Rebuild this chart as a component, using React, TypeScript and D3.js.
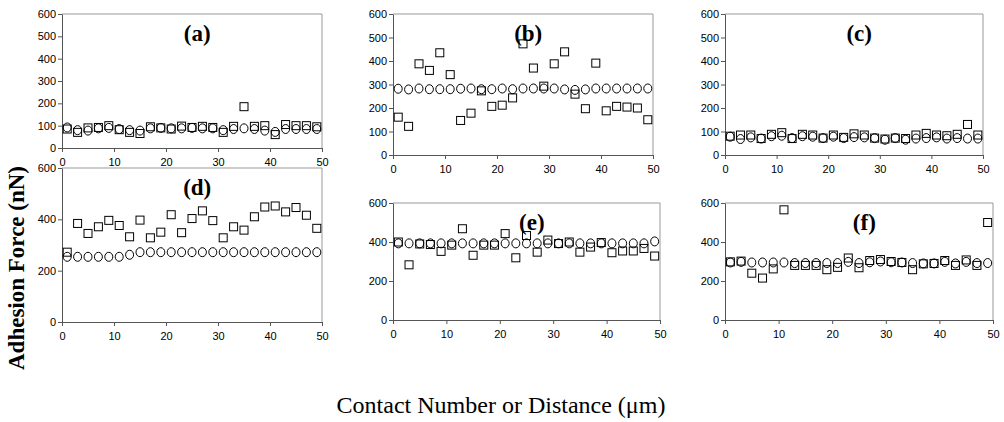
import React, { useEffect, useRef } from 'react'
import * as d3 from 'd3'

// contact number (x) shared by every panel
const contacts = [1, 3, 5, 7, 9, 11, 13, 15, 17, 19, 21, 23, 25, 27, 29, 31, 33, 35, 37, 39, 41, 43, 45, 47, 49]
const xTicks = [0, 10, 20, 30, 40, 50]
const yTicksTop = [0, 100, 200, 300, 400, 500, 600]
const yTicksBottom = [0, 200, 400, 600]

// (a)
const aSquares = [85, 70, 90, 92, 100, 82, 70, 65, 95, 90, 85, 98, 92, 97, 92, 70, 97, 185, 97, 100, 60, 105, 100, 100, 95]
const aCircles = [92, 80, 78, 88, 90, 85, 80, 78, 88, 90, 88, 88, 90, 88, 88, 80, 85, 88, 85, 78, 72, 85, 85, 85, 85]
// (b)
const bSquares = [161, 122, 388, 360, 435, 342, 147, 178, 273, 207, 212, 243, 473, 370, 293, 388, 439, 259, 197, 391, 188, 207, 204, 200, 150]
const bCircles = [282, 279, 283, 280, 280, 280, 282, 283, 280, 280, 283, 280, 283, 283, 283, 283, 279, 277, 279, 283, 283, 283, 283, 283, 283]
// (c)
const cSquares = [80, 85, 85, 70, 88, 95, 70, 88, 85, 72, 85, 75, 90, 85, 72, 68, 72, 70, 85, 92, 85, 82, 88, 130, 85]
const cCircles = [78, 68, 75, 70, 80, 82, 72, 80, 78, 72, 78, 72, 76, 75, 72, 65, 72, 65, 70, 72, 75, 70, 72, 70, 70]
// (d)
const dSquares = [272, 384, 345, 371, 396, 376, 332, 397, 328, 350, 418, 348, 403, 433, 395, 328, 371, 358, 410, 448, 452, 429, 446, 416, 365]
const dCircles = [254, 254, 254, 254, 254, 254, 262, 272, 272, 272, 272, 272, 272, 272, 272, 272, 272, 272, 272, 272, 272, 272, 272, 272, 272]
// (e)
const eSquares = [400, 283, 390, 387, 352, 384, 468, 332, 384, 384, 443, 319, 433, 348, 410, 392, 400, 348, 374, 397, 345, 354, 354, 367, 328]
const eCircles = [393, 393, 393, 393, 393, 393, 393, 393, 393, 393, 393, 393, 393, 393, 393, 393, 393, 393, 393, 393, 393, 393, 393, 393, 403]
// (f)
const fSquares = [298, 302, 240, 215, 262, 565, 280, 280, 280, 258, 270, 318, 268, 305, 310, 300, 295, 258, 288, 290, 305, 280, 308, 280, 500]
const fCircles = [295, 298, 295, 295, 295, 295, 292, 292, 292, 292, 292, 298, 292, 296, 300, 296, 295, 292, 290, 290, 298, 290, 298, 292, 292]

const panels = [
  { label: '(a)', squares: aSquares, circles: aCircles, yTicks: yTicksTop, box: [62, 322, 14, 148] },
  { label: '(b)', squares: bSquares, circles: bCircles, yTicks: yTicksTop, box: [393, 653, 14, 155] },
  { label: '(c)', squares: cSquares, circles: cCircles, yTicks: yTicksTop, box: [725, 983, 14, 155] },
  { label: '(d)', squares: dSquares, circles: dCircles, yTicks: yTicksBottom, box: [62, 322, 168, 322] },
  { label: '(e)', squares: eSquares, circles: eCircles, yTicks: yTicksBottom, box: [393, 660, 203, 320] },
  { label: '(f)', squares: fSquares, circles: fCircles, yTicks: yTicksBottom, box: [725, 993, 203, 320] },
]

const W = 1004
const H = 422

function App() {
  const ref = useRef<SVGSVGElement>(null)

  useEffect(() => {
    drawChart(ref.current)
  }, [])

  return (
    <svg ref={ref} width={W} height={H} style={{ position: 'absolute', left: 0, top: 0, background: '#fff' }} />
  )
}

function drawChart(node: SVGSVGElement | null) {
  if (!node) return
  const svg = d3.select(node)
  svg.selectAll('*').remove()

  panels.forEach(p => {
    const [x0, x1, y0, y1] = p.box
    const x = d3.scaleLinear().domain([0, 50]).range([x0, x1])
    const y = d3.scaleLinear().domain([0, 600]).range([y1, y0])
    const g = svg.append('g')

    // frame (top / right)
    g.append('path')
      .attr('d', `M${x0},${y0}H${x1}V${y1}`)
      .attr('fill', 'none')
      .attr('stroke', '#999')
      .attr('stroke-width', 1)

    const yAxis = g.append('g')
      .attr('transform', `translate(${x0},0)`)
      .call(d3.axisLeft(y).tickValues(p.yTicks).tickSize(4).tickSizeOuter(0).tickPadding(2))
    const xAxis = g.append('g')
      .attr('transform', `translate(0,${y1})`)
      .call(d3.axisBottom(x).tickValues(xTicks).tickSize(4).tickSizeOuter(0).tickPadding(6))
    ;[yAxis, xAxis].forEach(a => {
      a.selectAll('path, line').attr('stroke', '#555')
      a.selectAll('text')
        .attr('font-family', 'Liberation Sans, Arial, sans-serif')
        .attr('font-size', 11)
        .attr('fill', '#000')
    })

    g.append('text')
      .attr('x', x(26))
      .attr('y', y0 + 27)
      .attr('text-anchor', 'middle')
      .attr('font-family', 'Liberation Serif, Times New Roman, serif')
      .attr('font-weight', 'bold')
      .attr('font-size', 23)
      .text(p.label)

    g.selectAll('.ci')
      .data(p.circles)
      .enter()
      .append('ellipse')
      .attr('cx', (d, i) => x(contacts[i]))
      .attr('cy', d => y(d))
      .attr('rx', 4)
      .attr('ry', 4.5)
      .attr('fill', 'none')
      .attr('stroke', '#000')
      .attr('stroke-width', 1)

    g.selectAll('.sq')
      .data(p.squares)
      .enter()
      .append('rect')
      .attr('x', (d, i) => x(contacts[i]) - 4)
      .attr('y', d => y(d) - 4)
      .attr('width', 8)
      .attr('height', 8)
      .attr('fill', 'none')
      .attr('stroke', '#000')
      .attr('stroke-width', 1)
  })

  svg.append('text')
    .attr('transform', 'translate(24,268) rotate(-90)')
    .attr('text-anchor', 'middle')
    .attr('font-family', 'Liberation Serif, Times New Roman, serif')
    .attr('font-weight', 'bold')
    .attr('font-size', 23)
    .text('Adhesion Force (nN)')

  svg.append('text')
    .attr('x', 501)
    .attr('y', 413)
    .attr('text-anchor', 'middle')
    .attr('font-family', 'Liberation Serif, Times New Roman, serif')
    .attr('font-size', 24)
    .text('Contact Number or Distance (μm)')
}

export default App
